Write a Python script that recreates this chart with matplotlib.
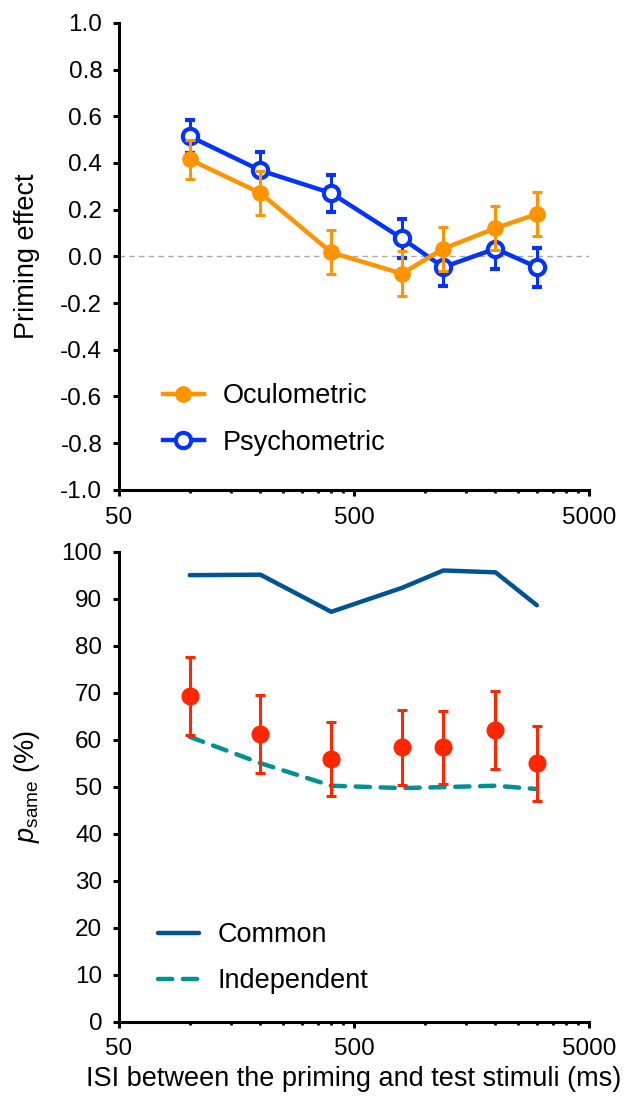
import numpy as np
import matplotlib
matplotlib.use("Agg")
import matplotlib.pyplot as plt
from matplotlib.lines import Line2D
from matplotlib.ticker import FixedLocator, FixedFormatter, NullFormatter

plt.rcParams['font.family'] = ['Liberation Sans', 'DejaVu Sans']
plt.rcParams['mathtext.fontset'] = 'custom'
plt.rcParams['mathtext.rm'] = 'Liberation Sans'
plt.rcParams['mathtext.it'] = 'Liberation Sans:italic'

# data
isi = [100, 200, 400, 800, 1200, 2000, 3000]

oculo = [0.415, 0.271, 0.017, -0.074, 0.033, 0.121, 0.181]
oculo_err = [0.084, 0.093, 0.094, 0.097, 0.094, 0.095, 0.094]
psycho = [0.514, 0.368, 0.271, 0.077, -0.046, 0.033, -0.046]
psycho_err = [0.071, 0.078, 0.079, 0.084, 0.080, 0.086, 0.084]

common = [95.0, 95.1, 87.2, 92.3, 96.0, 95.6, 88.6]
independent = [60.6, 55.0, 50.2, 49.7, 49.9, 50.2, 49.5]
psame = [69.2, 61.2, 55.9, 58.4, 58.4, 62.1, 55.0]
psame_err = [8.3, 8.2, 7.9, 7.95, 7.8, 8.3, 8.0]

orange = '#ff9300'
blue = '#0433ff'
red = '#ff2600'
navy = '#005493'
teal = '#009193'

fig = plt.figure(figsize=(6.24, 11.02), dpi=100)
ax1 = fig.add_axes([0.1907, 0.5555, 0.7532, 0.4237])
ax2 = fig.add_axes([0.1907, 0.0729, 0.7532, 0.4265])

def style_axis(ax):
    ax.set_xscale('log')
    ax.set_xlim(50, 5000)
    ax.xaxis.set_major_locator(FixedLocator([50, 500, 5000]))
    ax.xaxis.set_major_formatter(FixedFormatter(['50', '500', '5000']))
    minors = [50 * k for k in range(2, 10)] + [500 * k for k in range(2, 10)]
    ax.xaxis.set_minor_locator(FixedLocator(minors))
    ax.xaxis.set_minor_formatter(NullFormatter())
    for s in ['top', 'right']:
        ax.spines[s].set_visible(False)
    for s in ['left', 'bottom']:
        ax.spines[s].set_linewidth(2.2)
    ax.tick_params(axis='both', which='major', direction='out', length=4,
                   width=2.2, labelsize=17.5)
    ax.tick_params(axis='x', which='major', pad=8)
    ax.tick_params(axis='y', which='major', pad=8)
    ax.tick_params(axis='x', which='minor', direction='out', length=2.5, width=2)

# top panel
style_axis(ax1)
ax1.set_ylim(-1, 1)
yt = np.round(np.arange(-1, 1.01, 0.2), 1)
ax1.set_yticks(yt)
ax1.set_yticklabels(['%.1f' % (v + 0.0) for v in yt])
ax1.axhline(0, color='#aaaaaa', lw=1, ls=(0, (4, 3)), zorder=1)
ax1.errorbar(isi, psycho, yerr=psycho_err, color=blue, lw=3.2, marker='o', ms=11,
             mfc='white', mec=blue, mew=3, elinewidth=2.2, capsize=3.5, capthick=2.2,
             zorder=3)
ax1.errorbar(isi, oculo, yerr=oculo_err, color=orange, lw=3.2, marker='o', ms=11,
             mfc=orange, mec=orange, elinewidth=2.2, capsize=3.5, capthick=2.2,
             zorder=4)
h1 = [Line2D([], [], color=orange, lw=3.2, marker='o', ms=11, mfc=orange, mec=orange),
      Line2D([], [], color=blue, lw=3.2, marker='o', ms=11, mfc='white', mec=blue, mew=3)]
ax1.legend(h1, ['Oculometric', 'Psychometric'], loc='upper left',
           bbox_to_anchor=(0.094, 0.228), borderpad=0, borderaxespad=0,
           frameon=False, fontsize=19.5, handlelength=1.5, labelspacing=0.75,
           handletextpad=0.7)
ax1.set_ylabel('Priming effect', fontsize=19.5)
ax1.yaxis.set_label_coords(-0.168, 0.5)

# bottom panel
style_axis(ax2)
ax2.set_ylim(0, 100)
ax2.set_yticks(np.arange(0, 101, 10))
ax2.plot(isi, common, color=navy, lw=3.2, solid_capstyle='round')
ax2.plot(isi, independent, color=teal, lw=3.2, ls=(0, (3.2, 2.4)),
         dash_capstyle='round')
ax2.errorbar(isi, psame, yerr=psame_err, color=red, ls='none', marker='o', ms=12,
             elinewidth=2.2, capsize=3.5, capthick=2.2, zorder=4)
h2 = [Line2D([], [], color=navy, lw=3.2, solid_capstyle='round'),
      Line2D([], [], color=teal, lw=3.2, ls=(0, (3.2, 2.4)), dash_capstyle='round')]
ax2.legend(h2, ['Common', 'Independent'], loc='upper left',
           bbox_to_anchor=(0.083, 0.212), borderpad=0, borderaxespad=0,
           frameon=False, fontsize=19.5, handlelength=1.5, labelspacing=0.75,
           handletextpad=0.7)
ax2.set_ylabel(r'$p_{\mathrm{same}}$ (%)', fontsize=19.5)
ax2.yaxis.set_label_coords(-0.164, 0.5)
ax2.set_xlabel('ISI between the priming and test stimuli (ms)', fontsize=19.5,
               labelpad=4)

fig.savefig('out.png', dpi=100)
